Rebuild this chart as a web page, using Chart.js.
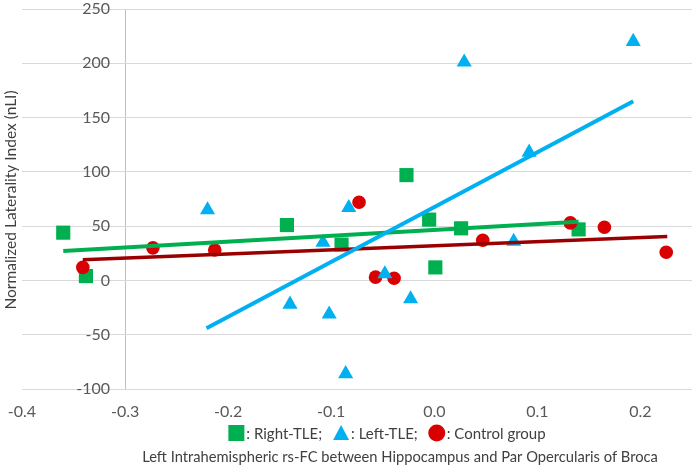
<!DOCTYPE html>
<html><head><meta charset="utf-8">
<script src="https://cdn.jsdelivr.net/npm/chart.js@4"></script>
<style>html,body{margin:0;padding:0;background:#fff}</style>
</head><body>
<canvas id="c" width="694" height="468"></canvas>
<script>
// Right-TLE (green squares)
const rightX = [-0.360, -0.338, -0.143, -0.090, -0.027, -0.005, 0.001, 0.026, 0.140];
const rightY = [44, 4, 51, 33, 97, 56, 12, 48, 47];
// Left-TLE (blue triangles)
const leftX = [-0.220, -0.140, -0.108, -0.102, -0.086, -0.083, -0.048, -0.023, 0.029, 0.077, 0.092, 0.193];
const leftY = [65, -22, 35, -31, -86, 67, 6, -17, 201, 36, 118, 220];
// Control group (red circles)
const ctrlX = [-0.341, -0.273, -0.213, -0.073, -0.057, -0.039, 0.047, 0.132, 0.165, 0.225];
const ctrlY = [12, 30, 28, 72, 3, 2, 37, 53, 49, 26];
// Trend lines (end points)
const rightTrendX = [-0.360, 0.140], rightTrendY = [27, 54];
const ctrlTrendX = [-0.341, 0.226], ctrlTrendY = [19, 40.5];
const leftTrendX = [-0.221, 0.193], leftTrendY = [-44, 165];
// Ticks
const xTicks = [-0.4, -0.3, -0.2, -0.1, 0.0, 0.1, 0.2];
const yTicks = [-100, -50, 0, 50, 100, 150, 200, 250];
const yAxisCrossX = -0.3;
const legendLabels = [': Right-TLE;', ': Left-TLE;', ': Control group'];
const xTitle = 'Left Intrahemispheric rs-FC between Hippocampus and Par Opercularis of Broca';
const yTitle = 'Normalized Laterality Index (nLI)';

const GREEN = '#00b050', BLUE = '#00b0f0', RED = '#d80000', DARKRED = '#9a0000';
const pts = (xs, ys) => xs.map((x, i) => ({x, y: ys[i]}));

const extras = {
  id: 'extras',
  afterDraw(chart) {
    const ctx = chart.ctx;
    const xs = chart.scales.x, ys = chart.scales.y;
    ctx.save();
    ctx.fillStyle = '#595959';
    ctx.font = '16px Lato';
    ctx.textBaseline = 'middle';
    // x tick labels
    ctx.textAlign = 'center';
    xTicks.forEach(v => ctx.fillText((Math.abs(v) < 1e-9 ? 0 : v).toFixed(1), xs.getPixelForValue(v), 412));
    // y tick labels next to the vertical axis at x = -0.3
    ctx.textAlign = 'right';
    const ax = xs.getPixelForValue(yAxisCrossX);
    yTicks.forEach(v => ctx.fillText(String(v), ax - 15, ys.getPixelForValue(v)));
    // y title
    ctx.fillStyle = '#404040';
    ctx.font = '15.5px Lato';
    ctx.textAlign = 'center';
    ctx.translate(11, 200);
    ctx.rotate(-Math.PI / 2);
    ctx.fillText(yTitle, 0, 0);
    ctx.restore();
    ctx.save();
    // x title
    ctx.fillStyle = '#404040';
    ctx.font = '14.7px Lato';
    ctx.textAlign = 'center';
    ctx.textBaseline = 'middle';
    ctx.fillText(xTitle, 400, 457);
    // legend
    ctx.font = '15px Lato';
    ctx.textAlign = 'left';
    const styles = [{c: GREEN, s: 'rect'}, {c: BLUE, s: 'tri'}, {c: RED, s: 'circ'}];
    const mw = 16, gapT = 2, gapI = 11;
    let total = 0;
    legendLabels.forEach((t, i) => { total += mw + gapT + ctx.measureText(t).width + (i < 2 ? gapI : 0); });
    let x = 387 - total / 2;
    const cy = 433;
    legendLabels.forEach((t, i) => {
      const st = styles[i];
      ctx.fillStyle = st.c;
      ctx.beginPath();
      if (st.s === 'rect') ctx.rect(x, cy - 8, 16, 16);
      else if (st.s === 'tri') { ctx.moveTo(x + 8, cy - 8); ctx.lineTo(x + 16, cy + 7); ctx.lineTo(x, cy + 7); ctx.closePath(); }
      else ctx.arc(x + 8, cy, 8.5, 0, Math.PI * 2);
      ctx.fill();
      x += mw + gapT;
      ctx.fillStyle = '#404040';
      ctx.fillText(t, x, cy + 1);
      x += ctx.measureText(t).width + gapI;
    });
    ctx.restore();
  }
};

new Chart(document.getElementById('c'), {
  type: 'scatter',
  data: {
    datasets: [
      {type: 'line', data: pts(leftTrendX, leftTrendY), borderColor: BLUE, borderWidth: 4, pointRadius: 0, fill: false, order: 0},
      {type: 'line', data: pts(rightTrendX, rightTrendY), borderColor: GREEN, borderWidth: 4, pointRadius: 0, fill: false, order: 1},
      {type: 'line', data: pts(ctrlTrendX, ctrlTrendY), borderColor: DARKRED, borderWidth: 3.5, pointRadius: 0, fill: false, order: 2},
      {label: 'Left-TLE', data: pts(leftX, leftY), pointStyle: 'triangle', pointRadius: 8.7, backgroundColor: BLUE, borderWidth: 0, order: 3},
      {label: 'Control group', data: pts(ctrlX, ctrlY), pointStyle: 'circle', pointRadius: 6.8, backgroundColor: RED, borderWidth: 0, order: 4},
      {label: 'Right-TLE', data: pts(rightX, rightY), pointStyle: 'rect', pointRadius: 10, backgroundColor: GREEN, borderWidth: 0, order: 5}
    ]
  },
  options: {
    responsive: false,
    animation: false,
    devicePixelRatio: 1,
    layout: {autoPadding: false, padding: {left: 22, right: 2, top: 9, bottom: 79}},
    plugins: {legend: {display: false}, tooltip: {enabled: false}, title: {display: false}},
    scales: {
      x: {
        type: 'linear', position: 'bottom', min: -0.4, max: 0.25,
        afterBuildTicks: s => { s.ticks = xTicks.map(v => ({value: v})); },
        grid: {drawTicks: false, lineWidth: 1,
          color: c => (c.tick && Math.abs(c.tick.value - yAxisCrossX) < 1e-9) ? '#bfbfbf' : 'rgba(0,0,0,0)'},
        border: {display: false},
        ticks: {display: false}
      },
      y: {
        type: 'linear', position: 'left', min: -100, max: 250,
        afterBuildTicks: s => { s.ticks = yTicks.map(v => ({value: v})); },
        grid: {color: '#d9d9d9', lineWidth: 1, drawTicks: false},
        border: {display: false},
        ticks: {display: false}
      }
    }
  },
  plugins: [extras]
});
</script>
</body></html>
